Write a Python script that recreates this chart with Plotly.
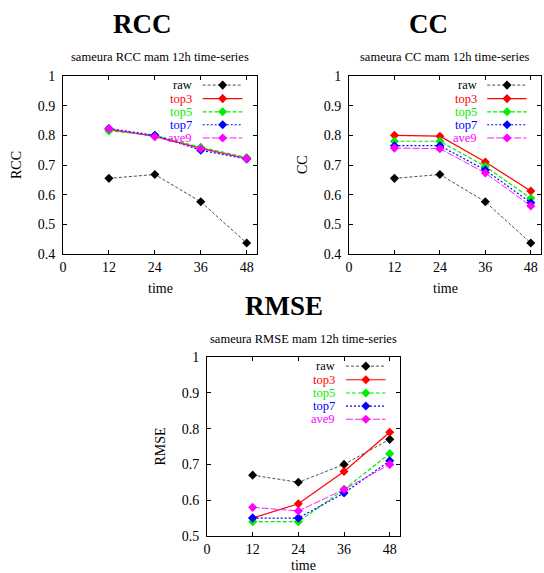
import plotly.graph_objects as go

W, H = 544, 573

times = [12, 24, 36, 48]
series_names = ["raw", "top3", "top5", "top7", "ave9"]

rcc_raw = [0.655, 0.668, 0.576, 0.437]
rcc_top3 = [0.820, 0.797, 0.757, 0.722]
rcc_top5 = [0.815, 0.800, 0.760, 0.725]
rcc_top7 = [0.823, 0.800, 0.750, 0.720]
rcc_ave9 = [0.822, 0.795, 0.755, 0.722]

cc_raw = [0.655, 0.668, 0.576, 0.437]
cc_top3 = [0.800, 0.797, 0.710, 0.612]
cc_top5 = [0.780, 0.780, 0.695, 0.588]
cc_top7 = [0.765, 0.765, 0.683, 0.573]
cc_ave9 = [0.757, 0.755, 0.673, 0.562]

rmse_raw = [0.67, 0.65, 0.70, 0.77]
rmse_top3 = [0.55, 0.59, 0.68, 0.79]
rmse_top5 = [0.54, 0.54, 0.63, 0.73]
rmse_top7 = [0.55, 0.55, 0.62, 0.71]
rmse_ave9 = [0.58, 0.57, 0.63, 0.70]

x_ticks = [0, 12, 24, 36, 48]
rcc_cc_yticks = [0.4, 0.5, 0.6, 0.7, 0.8, 0.9, 1.0]
rmse_yticks = [0.5, 0.6, 0.7, 0.8, 0.9, 1.0]
tick_text_y1 = ["0.4", "0.5", "0.6", "0.7", "0.8", "0.9", "1"]
tick_text_y2 = ["0.5", "0.6", "0.7", "0.8", "0.9", "1"]

styles = {
    "raw": dict(color="black", dash="3px,2px", width=0.7),
    "top3": dict(color="#ff0000", dash="solid", width=1.2),
    "top5": dict(color="#00ee00", dash="4px,2px", width=1.2),
    "top7": dict(color="#0000ff", dash="2px,2px", width=1.2),
    "ave9": dict(color="#ff00ff", dash="7px,2px", width=0.9),
}
text_colors = {"raw": "black", "top3": "#ff0000", "top5": "#00ee00",
               "top7": "#0000ff", "ave9": "#ff00ff"}

panels = [
    dict(key="RCC", data=[rcc_raw, rcc_top3, rcc_top5, rcc_top7, rcc_ave9],
         px=(63, 257), py=(76, 254), yr=[0.4, 1.0], yt=rcc_cc_yticks, ytt=tick_text_y1,
         tcx=142, tcy=24, scy=57, xly=288),
    dict(key="CC", data=[cc_raw, cc_top3, cc_top5, cc_top7, cc_ave9],
         px=(349, 541), py=(76, 254), yr=[0.4, 1.0], yt=rcc_cc_yticks, ytt=tick_text_y1,
         tcx=428, tcy=24, scy=57, xly=288),
    dict(key="RMSE", data=[rmse_raw, rmse_top3, rmse_top5, rmse_top7, rmse_ave9],
         px=(207, 400), py=(357, 536), yr=[0.5, 1.0], yt=rmse_yticks, ytt=tick_text_y2,
         tcx=284, tcy=306, scy=339, xly=565),
]

SERIF = "Liberation Serif"
fig = go.Figure()
layout = dict(width=W, height=H, margin=dict(l=0, r=0, t=0, b=0, autoexpand=False),
              paper_bgcolor="white", plot_bgcolor="rgba(0,0,0,0)", showlegend=False)
annotations = []

legend_rows = [0.949, 0.873, 0.799, 0.726, 0.652]

for i, p in enumerate(panels):
    n = i + 1
    xa = "x" if n == 1 else f"x{n}"
    ya = "y" if n == 1 else f"y{n}"
    xd = [p["px"][0] / W, p["px"][1] / W]
    yd = [1 - p["py"][1] / H, 1 - p["py"][0] / H]
    axis_common = dict(showline=True, linecolor="black", linewidth=1, mirror="ticks",
                       ticks="inside", ticklen=4, tickcolor="black", showgrid=False,
                       zeroline=False, automargin=False,
                       tickfont=dict(family=SERIF, size=14, color="black"))
    layout["xaxis" if n == 1 else f"xaxis{n}"] = dict(
        domain=xd, anchor=ya, range=[0, 50.7], tickvals=x_ticks, **axis_common)
    layout["yaxis" if n == 1 else f"yaxis{n}"] = dict(
        domain=yd, anchor=xa, range=p["yr"], tickvals=p["yt"], ticktext=p["ytt"],
        ticklabelstandoff=4, **axis_common)
    for name, vals in zip(series_names, p["data"]):
        st = styles[name]
        fig.add_trace(go.Scatter(x=times, y=vals, xaxis=xa, yaxis=ya, mode="lines+markers",
                                 name=name, line=st,
                                 marker=dict(symbol="diamond", size=7, color=st["color"])))
    # legend overlay axes
    ln = n + 3
    layout[f"xaxis{ln}"] = dict(domain=xd, anchor=f"y{ln}", range=[0, 1], visible=False,
                                fixedrange=True, overlaying=xa, automargin=False)
    layout[f"yaxis{ln}"] = dict(domain=yd, anchor=f"x{ln}", range=[0, 1], visible=False,
                                fixedrange=True, overlaying=ya, automargin=False)
    for name, ry in zip(series_names, legend_rows):
        st = styles[name]
        fig.add_trace(go.Scatter(x=[0.72, 0.823, 0.925], y=[ry, ry, ry],
                                 xaxis=f"x{ln}", yaxis=f"y{ln}", mode="lines+markers",
                                 line=st, hoverinfo="skip",
                                 marker=dict(symbol="diamond", size=7, color=st["color"],
                                             opacity=[0, 1, 0])))
        annotations.append(dict(text=name, xref=f"x{ln} domain", yref=f"y{ln} domain",
                                x=0.67, y=ry, xanchor="right", yanchor="middle",
                                showarrow=False, borderpad=0,
                                font=dict(family=SERIF, size=12.5, color=text_colors[name])))
    # titles
    annotations.append(dict(text=f"<b>{p['key']}</b>", xref="paper", yref="paper",
                            x=p["tcx"] / W, y=1 - p["tcy"] / H, xanchor="center",
                            yanchor="middle", showarrow=False,
                            font=dict(family=SERIF, size=27, color="black")))
    annotations.append(dict(text=f"sameura {p['key']} mam 12h time-series", xref="paper",
                            yref="paper", x=(p["px"][0] + p["px"][1]) / 2 / W,
                            y=1 - p["scy"] / H, xanchor="center", yanchor="middle",
                            showarrow=False, font=dict(family=SERIF, size=12.5, color="black")))
    # axis titles
    annotations.append(dict(text="time", xref="paper", yref="paper",
                            x=(p["px"][0] + p["px"][1]) / 2 / W, y=1 - p["xly"] / H,
                            xanchor="center", yanchor="middle", showarrow=False, borderpad=0,
                            font=dict(family=SERIF, size=14, color="black")))
    annotations.append(dict(text=p["key"], xref="paper", yref="paper",
                            x=(p["px"][0] - 47) / W, y=1 - (p["py"][0] + p["py"][1]) / 2 / H,
                            xanchor="center", yanchor="middle", showarrow=False, textangle=-90,
                            font=dict(family=SERIF, size=14, color="black")))

layout["annotations"] = annotations
fig.update_layout(**layout)
fig.write_html("out.html")
